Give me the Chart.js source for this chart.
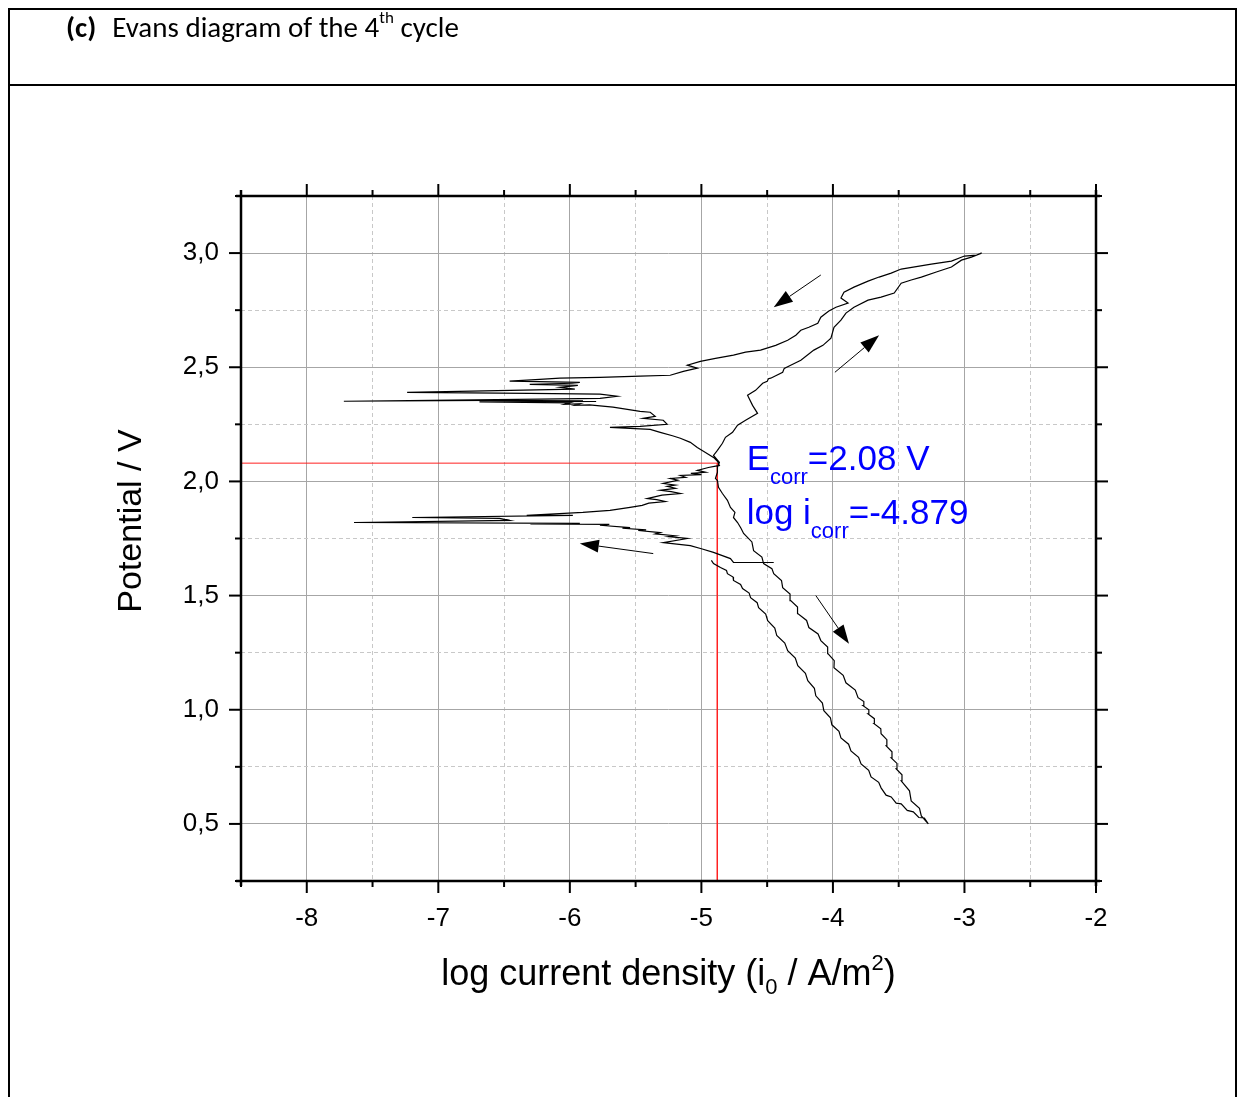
<!DOCTYPE html>
<html lang="en">
<head>
<meta charset="UTF-8">
<title>Evans diagram of the 4th cycle</title>
<script src="https://cdn.jsdelivr.net/npm/chart.js"></script>
<style>
    body { margin: 0; padding: 0; background: #fff; }
    #wrap { position: relative; width: 1237px; height: 1097px; overflow: hidden; }
    #chart { position: absolute; left: 0; top: 0; }
    .rule { position: absolute; background: #000; }
    #caption { position: absolute; left: 66px; top: 9px; font-family: Carlito, Lato, "Open Sans", sans-serif; font-size: 29px; color: #000; white-space: nowrap; }
    #caption b { margin-right: 16px; }
    #caption sup { font-size: 17px; position: relative; top: -3px; }
</style>
</head>
<body>
<div id="wrap">
    <canvas id="chart" width="1237" height="1097"></canvas>
    <div class="rule" style="left:8px;top:8px;width:1229px;height:2px"></div>
    <div class="rule" style="left:8px;top:84px;width:1229px;height:2px"></div>
    <div class="rule" style="left:8px;top:8px;width:2px;height:1089px"></div>
    <div class="rule" style="left:1235px;top:8px;width:2px;height:1089px"></div>
    <div id="caption"><b>(c)</b>Evans diagram of the 4<sup>th</sup> cycle</div>
</div>

<script>
    // axis ranges
    const xMin = -8.5, xMax = -2;
    const yMin = 0.25, yMax = 3.25;

    // corrosion point
    const eCorr = 2.08;
    const logICorr = -4.879;

    // scan branches, [log i, E] pairs, in scan order
    const innerLower = [
        [-4.924,1.654],[-4.908,1.640],[-4.855,1.623],[-4.809,1.610],[-4.802,1.596],[-4.759,1.581],
        [-4.756,1.566],[-4.702,1.549],[-4.687,1.531],[-4.637,1.511],[-4.626,1.491],[-4.576,1.469],
        [-4.565,1.447],[-4.511,1.419],[-4.496,1.390],[-4.442,1.358],[-4.427,1.325],[-4.366,1.292],
        [-4.344,1.259],[-4.286,1.226],[-4.267,1.193],[-4.209,1.160],[-4.191,1.127],[-4.141,1.094],
        [-4.130,1.061],[-4.080,1.029],[-4.069,0.996],[-4.019,0.965],[-4.008,0.934],[-3.954,0.906],
        [-3.939,0.877],[-3.881,0.849],[-3.863,0.820],[-3.805,0.792],[-3.786,0.763],[-3.728,0.735],
        [-3.710,0.706],[-3.652,0.682],[-3.634,0.658],[-3.596,0.626],[-3.557,0.618],[-3.519,0.591],
        [-3.481,0.588],[-3.435,0.559],[-3.389,0.553],[-3.347,0.528],[-3.305,0.526],[-3.275,0.500]
    ];
    const outerLower = [
        [-3.328,0.535],[-3.342,0.568],[-3.405,0.601],[-3.418,0.645],[-3.481,0.689],[-3.475,0.715],
        [-3.519,0.741],[-3.513,0.765],[-3.557,0.789],[-3.551,0.816],[-3.595,0.842],[-3.590,0.869],
        [-3.634,0.895],[-3.636,0.917],[-3.687,0.939],[-3.685,0.961],[-3.733,0.982],[-3.727,1.000],
        [-3.771,1.018],[-3.765,1.036],[-3.809,1.053],[-3.830,1.086],[-3.901,1.118],[-3.922,1.151],
        [-3.992,1.184],[-3.990,1.215],[-4.038,1.246],[-4.040,1.275],[-4.092,1.303],[-4.113,1.332],
        [-4.183,1.360],[-4.200,1.391],[-4.267,1.421],[-4.269,1.450],[-4.321,1.478],[-4.326,1.507],
        [-4.382,1.535],[-4.391,1.566],[-4.450,1.596],[-4.464,1.618],[-4.527,1.640],[-4.540,1.669],
        [-4.603,1.697],[-4.616,1.735],[-4.679,1.772],[-4.700,1.796],[-4.725,1.820],[-4.756,1.842],
        [-4.745,1.864],[-4.779,1.886],[-4.802,1.917],[-4.840,1.947],[-4.870,1.974],[-4.878,2.004],
        [-4.893,2.013],[-4.878,2.040],[-4.878,2.061],[-4.863,2.083],[-4.908,2.114]
    ];
    const anodicUpper = [
        [-4.878,2.136],[-4.840,2.167],[-4.817,2.193],[-4.763,2.215],[-4.725,2.246],[-4.664,2.268],
        [-4.573,2.298],[-4.611,2.333],[-4.649,2.377],[-4.588,2.399],[-4.534,2.430],[-4.500,2.438],
        [-4.490,2.450],[-4.473,2.452],[-4.382,2.478],[-4.370,2.495],[-4.321,2.509],[-4.244,2.531],
        [-4.145,2.575],[-4.076,2.596],[-4.015,2.627],[-3.992,2.675],[-3.939,2.706],[-3.901,2.737],
        [-3.840,2.763],[-3.733,2.794],[-3.634,2.807],[-3.534,2.825],[-3.481,2.868],[-3.405,2.882],
        [-3.328,2.895],[-3.214,2.917],[-3.099,2.939],[-3.023,2.969],[-2.947,2.982],[-2.870,3.000]
    ];
    const reverseUpper = [
        [-2.908,2.991],[-3.000,2.987],[-3.099,2.965],[-3.252,2.952],[-3.481,2.930],[-3.557,2.912],
        [-3.649,2.895],[-3.733,2.877],[-3.840,2.851],[-3.916,2.829],[-3.939,2.803],[-3.885,2.781],
        [-3.977,2.763],[-4.031,2.746],[-4.092,2.719],[-4.115,2.693],[-4.183,2.675],[-4.244,2.662],
        [-4.282,2.640],[-4.344,2.618],[-4.435,2.596],[-4.550,2.575],[-4.664,2.566],[-4.756,2.553],
        [-4.893,2.539],[-5.008,2.526],[-5.107,2.509],[-5.031,2.496],[-5.137,2.482],[-5.237,2.465],
        [-5.466,2.461],[-5.771,2.456],[-6.076,2.452],[-6.229,2.447],[-6.458,2.439],[-5.924,2.434],
        [-5.985,2.430],[-6.305,2.425],[-5.939,2.421],[-6.076,2.412],[-5.962,2.404],[-7.237,2.390],
        [-6.305,2.386],[-5.771,2.382],[-5.641,2.373],[-5.771,2.364],[-6.229,2.360],[-7.718,2.351],
        [-6.611,2.355],[-5.900,2.353],[-6.500,2.352],[-5.800,2.350],[-6.687,2.348],[-6.000,2.344],
        [-6.038,2.338],[-5.924,2.340],[-5.962,2.333],[-5.850,2.335],[-5.672,2.325],[-5.466,2.307],
        [-5.389,2.303],[-5.351,2.285],[-5.443,2.276],[-5.290,2.268],[-5.260,2.250],[-5.466,2.241],
        [-5.695,2.237],[-5.389,2.228],[-5.313,2.215],[-5.220,2.200],[-5.160,2.189],[-5.084,2.171],
        [-5.031,2.149],[-4.969,2.127],[-4.908,2.105],[-4.878,2.088],[-4.863,2.070]
    ];
    const cathodicLower = [
        [-4.947,2.061],[-5.031,2.048],[-4.969,2.040],[-5.080,2.035],[-5.000,2.030],[-5.160,2.026],
        [-5.120,2.018],[-5.237,2.013],[-5.180,2.005],[-5.290,1.991],[-5.198,1.984],[-5.260,1.978],
        [-5.198,1.970],[-5.313,1.961],[-5.230,1.955],[-5.160,1.947],[-5.300,1.940],[-5.412,1.925],
        [-5.340,1.920],[-5.275,1.912],[-5.400,1.905],[-5.450,1.895],[-5.542,1.886],[-5.695,1.873],
        [-5.901,1.864],[-6.328,1.851],[-5.977,1.851],[-7.198,1.842],[-6.534,1.838],[-6.458,1.829],
        [-7.641,1.820],[-5.924,1.816],[-6.300,1.814],[-5.700,1.812],[-5.771,1.808],[-5.542,1.798],
        [-5.600,1.795],[-5.420,1.788],[-5.480,1.785],[-5.313,1.776],[-5.350,1.770],[-5.200,1.762],
        [-5.250,1.758],[-5.107,1.750],[-5.290,1.732],[-5.084,1.719],[-5.000,1.705],[-4.908,1.689],
        [-4.779,1.662],[-4.756,1.645],[-4.450,1.645]
    ];

    // scan direction arrows: [fromX, fromY, toX, toY]
    const arrows = [
        [-4.092,2.904,-4.450,2.763],
        [-3.985,2.478,-3.649,2.640],
        [-5.366,1.684,-5.924,1.728],
        [-4.130,1.500,-3.878,1.289]
    ];

    // where the E_corr label sits (data units)
    const labelX = -4.656, labelY = 2.048;

    const scan = [].concat(innerLower, outerLower, anodicUpper, reverseUpper, cathodicLower)
        .map(p => ({x: p[0], y: p[1]}));
    const corrLines = [
        {x: xMin, y: eCorr}, {x: logICorr, y: eCorr}, {x: logICorr, y: yMin}
    ];

    const font = 'Arial, "Liberation Sans", sans-serif';
    const isHalf = v => Math.abs(v * 2 - Math.round(v * 2)) < 1e-9;

    const decorations = {
        id: 'decorations',
        afterDatasetsDraw(chart) {
            const {ctx, chartArea: a, scales: {x, y}} = chart;
            const seg = (x1, y1, x2, y2) => { ctx.beginPath(); ctx.moveTo(x1, y1); ctx.lineTo(x2, y2); ctx.stroke(); };
            ctx.save();
            ctx.strokeStyle = '#000';
            ctx.fillStyle = '#000';

            // arrows
            ctx.lineWidth = 1;
            arrows.forEach(r => {
                const x1 = x.getPixelForValue(r[0]), y1 = y.getPixelForValue(r[1]);
                const x2 = x.getPixelForValue(r[2]), y2 = y.getPixelForValue(r[3]);
                const ang = Math.atan2(y2 - y1, x2 - x1);
                const hl = 19, hw = 6.5;
                seg(x1, y1, x2 - hl * Math.cos(ang), y2 - hl * Math.sin(ang));
                ctx.beginPath();
                ctx.moveTo(x2, y2);
                ctx.lineTo(x2 - hl * Math.cos(ang) + hw * Math.sin(ang), y2 - hl * Math.sin(ang) - hw * Math.cos(ang));
                ctx.lineTo(x2 - hl * Math.cos(ang) - hw * Math.sin(ang), y2 - hl * Math.sin(ang) + hw * Math.cos(ang));
                ctx.closePath();
                ctx.fill();
            });

            // tick marks on all four sides
            ctx.lineWidth = 2;
            x.ticks.forEach(t => {
                const px = x.getPixelForValue(t.value);
                const len = Number.isInteger(t.value) ? 12 : 6;
                seg(px, a.bottom, px, a.bottom + len);
                seg(px, a.top, px, a.top - len);
            });
            y.ticks.forEach(t => {
                const py = y.getPixelForValue(t.value);
                const len = isHalf(t.value) ? 12 : 6;
                seg(a.left, py, a.left - len, py);
                seg(a.right, py, a.right + len, py);
            });

            // frame
            ctx.lineWidth = 2.5;
            seg(a.left - 5, a.bottom, a.right + 4, a.bottom);
            seg(a.left - 5, a.top, a.right + 4, a.top);
            seg(a.left, a.top - 6, a.left, a.bottom + 5);
            seg(a.right, a.top - 6, a.right, a.bottom + 5);

            // E_corr / i_corr label
            ctx.fillStyle = '#0000ff';
            ctx.textBaseline = 'alphabetic';
            ctx.textAlign = 'left';
            let lx = x.getPixelForValue(labelX), ly = y.getPixelForValue(labelY);
            const big = '35px ' + font, small = '22px ' + font;
            const runs = (parts, px, py) => {
                parts.forEach(p => {
                    ctx.font = p[1] ? small : big;
                    ctx.fillText(p[0], px, py + (p[1] ? 14 : 0));
                    px += ctx.measureText(p[0]).width;
                });
            };
            runs([['E', 0], ['corr', 1], ['=' + eCorr.toFixed(2) + ' V', 0]], lx, ly);
            runs([['log i', 0], ['corr', 1], ['=' + logICorr.toFixed(3), 0]], lx, ly + 54);

            // axis titles
            ctx.fillStyle = '#000';
            const xBig = '36px ' + font, xSmall = '22px ' + font;
            const xParts = [['log current density (i', 0], ['0', -1], [' / A/m', 0], ['2', 1], [')', 0]];
            let w = 0;
            xParts.forEach(p => { ctx.font = p[1] ? xSmall : xBig; w += ctx.measureText(p[0]).width; });
            let tx = (a.left + a.right) / 2 - w / 2;
            const ty = a.bottom + 104;
            xParts.forEach(p => {
                ctx.font = p[1] ? xSmall : xBig;
                ctx.fillText(p[0], tx, ty + (p[1] === -1 ? 9 : p[1] === 1 ? -15 : 0));
                tx += ctx.measureText(p[0]).width;
            });

            ctx.translate(a.left - 100, a.top + 325);
            ctx.rotate(-Math.PI / 2);
            ctx.font = '34px ' + font;
            ctx.textAlign = 'center';
            ctx.fillText('Potential / V', 0, 0);
            ctx.restore();
        }
    };

    const chart = new Chart(document.getElementById('chart'), {
        type: 'scatter',
        data: {
            datasets: [
                {
                    data: scan,
                    showLine: true,
                    borderColor: '#000',
                    borderWidth: 1.2,
                    pointRadius: 0,
                    tension: 0
                },
                {
                    data: corrLines,
                    showLine: true,
                    borderColor: '#ff2020',
                    borderWidth: 1,
                    pointRadius: 0,
                    tension: 0
                }
            ]
        },
        options: {
            responsive: false,
            animation: false,
            events: [],
            layout: { padding: { top: 196, right: 141, left: 0, bottom: 0 } },
            plugins: { legend: { display: false }, tooltip: { enabled: false }, title: { display: false } },
            scales: {
                x: {
                    type: 'linear',
                    min: xMin,
                    max: xMax,
                    afterFit(scale) { scale.height = 216; },
                    grid: {
                        drawTicks: false,
                        lineWidth: 1,
                        color: c => Number.isInteger(c.tick.value) ? '#a6a6a6' : '#c8c8c8'
                    },
                    border: {
                        display: false,
                        dash: c => (c.tick && !Number.isInteger(c.tick.value)) ? [4, 3] : []
                    },
                    ticks: {
                        stepSize: 0.5,
                        autoSkip: false,
                        maxRotation: 0,
                        padding: 22,
                        color: '#000',
                        font: { family: font, size: 26 },
                        callback: v => Number.isInteger(v) ? String(v) : ''
                    }
                },
                y: {
                    type: 'linear',
                    min: yMin,
                    max: yMax,
                    afterFit(scale) { scale.width = 241; },
                    grid: {
                        drawTicks: false,
                        lineWidth: 1,
                        color: c => isHalf(c.tick.value) ? '#a6a6a6' : '#c8c8c8'
                    },
                    border: {
                        display: false,
                        dash: c => (c.tick && !isHalf(c.tick.value)) ? [4, 3] : []
                    },
                    ticks: {
                        stepSize: 0.25,
                        autoSkip: false,
                        padding: 22,
                        color: '#000',
                        font: { family: font, size: 26 },
                        callback: v => isHalf(v) ? v.toFixed(1).replace('.', ',') : ''
                    }
                }
            }
        },
        plugins: [decorations]
    });
</script>
</body>
</html>
